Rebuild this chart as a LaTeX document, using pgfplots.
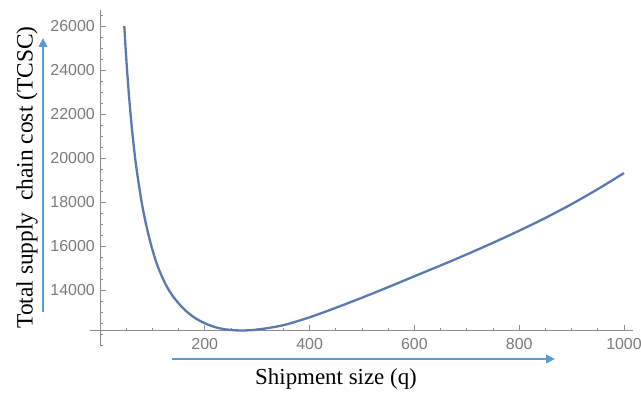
\documentclass[border=0pt]{standalone}
\usepackage{pgfplots}
\pgfplotsset{compat=1.18}
\usepackage{fontspec}
\setmainfont{Liberation Serif}
\newfontfamily\ticksfont{Liberation Sans}
\usetikzlibrary{arrows.meta}
\definecolor{curveblue}{HTML}{5A79B0}
\definecolor{arrowblue}{HTML}{5B9BD5}
\definecolor{axisgray}{HTML}{8C8C8C}
\definecolor{labelgray}{HTML}{7A7A7A}

\begin{document}
\begin{tikzpicture}
\useasboundingbox (0bp,0bp) rectangle (641bp,394bp);
\begin{axis}[
  at={(90bp,49bp)}, anchor=south west,
  scale only axis, width=542.9bp, height=335bp,
  xmin=-19, xmax=1017, ymin=11500, ymax=26727,
  axis lines=none, clip=false,
]
% axes crossing at (0, 12150)
\draw[axisgray, line width=0.9bp] (axis cs:-19,12150) -- (axis cs:1017,12150);
\draw[axisgray, line width=0.9bp] (axis cs:0,11500) -- (axis cs:0,26727);
% x ticks
\pgfplotsinvokeforeach{50,100,150,250,300,350,450,500,550,650,700,750,850,900,950}{
  \draw[axisgray, line width=0.7bp] (axis cs:#1,12150) -- ++(0bp,3bp);
}
\pgfplotsinvokeforeach{200,400,600,800,1000}{
  \draw[axisgray, line width=0.8bp] (axis cs:#1,12150) -- ++(0bp,5.5bp);
  \node[labelgray, anchor=north, inner sep=0pt, font=\ticksfont\fontsize{16}{18}\selectfont]
    at ([yshift=-7bp]axis cs:#1,12150) {#1};
}
% y ticks
\pgfplotsinvokeforeach{11500,12000,12500,13000,13500,14500,15000,15500,16500,17000,17500,18500,19000,19500,20500,21000,21500,22500,23000,23500,24500,25000,25500,26500}{
  \draw[axisgray, line width=0.7bp] (axis cs:0,#1) -- ++(3.5bp,0bp);
}
\pgfplotsinvokeforeach{14000,16000,18000,20000,22000,24000,26000}{
  \draw[axisgray, line width=0.8bp] (axis cs:0,#1) -- ++(6bp,0bp);
  \node[labelgray, anchor=east, inner sep=0pt, font=\ticksfont\fontsize{16}{18}\selectfont]
    at ([xshift=-5bp]axis cs:0,#1) {#1};
}
% total supply chain cost against shipment size
\addplot[curveblue, line width=2.3bp, smooth] coordinates {
  (46.4,26000) (50,24600) (55,22950) (60,21580) (65,20440) (70,19470)
  (80,17930) (90,16770) (100,15840) (110,15090) (125,14270) (140,13690)
  (160,13140) (180,12750) (200,12490) (220,12310) (240,12210) (267,12160)
  (300,12200) (350,12400) (400,12760) (450,13190) (500,13650) (550,14130)
  (600,14625) (650,15115) (700,15620) (750,16145) (800,16695) (850,17275)
  (900,17905) (950,18585) (1000,19315)
};
\end{axis}
% direction arrows beside the axes
\draw[arrowblue, line width=2.6bp, -{Triangle[length=9bp,width=8.5bp]}] (43bp,82bp) -- (43bp,356bp);
\draw[arrowblue, line width=2.6bp, -{Triangle[length=9bp,width=8.5bp]}] (172bp,35bp) -- (555bp,35bp);
% axis titles
\node[rotate=90, inner sep=0pt, font=\fontsize{23.5}{26}\selectfont] at (27bp,216.5bp) {Total supply\ \ chain cost (TCSC)};
\node[anchor=base, inner sep=0pt, font=\fontsize{23}{26}\selectfont] at (336bp,10bp) {Shipment size (q)};
\end{tikzpicture}
\end{document}
